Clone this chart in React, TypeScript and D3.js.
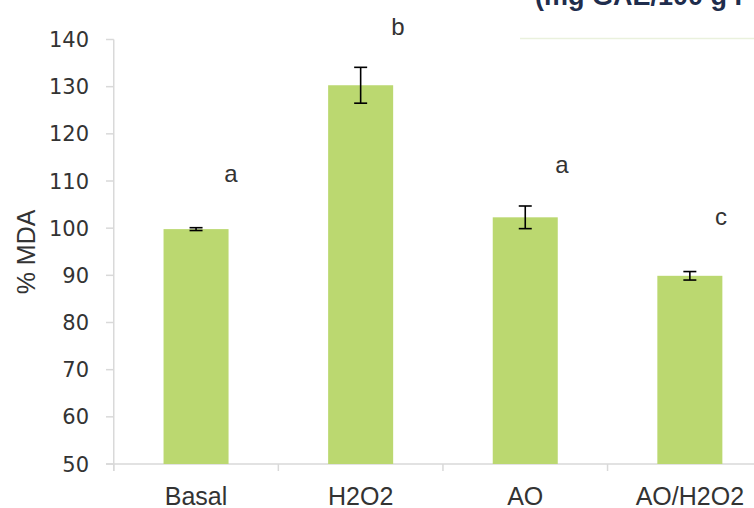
import React from "react";
import * as d3 from "d3";

const categories = ["Basal", "H2O2", "AO", "AO/H2O2"];
const values = [99.8, 130.3, 102.3, 89.9];
const errors = [0.3, 3.8, 2.4, 0.9];
const letters = ["a", "b", "a", "c"];
const yTicks = [50, 60, 70, 80, 90, 100, 110, 120, 130, 140];
const yLabel = "% MDA";
const topTitle = "(mg GAE/100 g FW)";

// layout for the significance letters (pixel positions, not data)
const letterPos = [
  [231, 182],
  [398, 35],
  [562, 173],
  [721, 225],
];

const W = 754;
const H = 508;

export default function App() {
  const axisX = 113.75;
  const step = 164.6;
  const x = d3
    .scaleBand<string>()
    .domain(categories)
    .range([axisX, axisX + step * categories.length])
    .padding(0);
  const y = d3.scaleLinear().domain([50, 140]).range([464, 39.5]);
  const barW = x.bandwidth() * 0.395;
  const axisColor = "#D9D9D9";
  const textColor = "#333333";

  return (
    <svg
      width={W}
      height={H}
      style={{ position: "absolute", left: 0, top: 0, background: "#fff" }}
    >
      <rect x={0} y={0} width={W} height={H} fill="#fff" />
      {/* partial title cut at top */}
      <text
        x={535}
        y={5}
        fontFamily="'Liberation Sans', Arial, sans-serif"
        fontWeight="bold"
        fontSize={27}
        fill="#1F2D4D"
      >
        {topTitle}
      </text>
      <line x1={520} x2={W} y1={38.5} y2={38.5} stroke="#EAF1DD" strokeWidth={1.5} />

      {/* y axis */}
      <line x1={axisX} x2={axisX} y1={y(140)} y2={471} stroke={axisColor} strokeWidth={1.5} />
      {yTicks.map((t) => (
        <g key={t}>
          <line x1={106} x2={axisX} y1={y(t)} y2={y(t)} stroke={axisColor} strokeWidth={1.5} />
          <text
            x={89}
            y={y(t)}
            dy="0.36em"
            textAnchor="end"
            fontFamily="'DejaVu Sans', Verdana, sans-serif"
            fontSize={21}
            fill={textColor}
          >
            {t}
          </text>
        </g>
      ))}
      <text
        transform={`translate(35,252) rotate(-90)`}
        textAnchor="middle"
        fontFamily="'Liberation Sans', Arial, sans-serif"
        fontSize={25}
        fill={textColor}
      >
        {yLabel}
      </text>

      {/* x axis */}
      <line x1={106} x2={W} y1={y(50)} y2={y(50)} stroke={axisColor} strokeWidth={1.5} />
      {categories.map((c, i) => (
        <line
          key={"t" + c}
          x1={(x(c) as number)}
          x2={(x(c) as number)}
          y1={y(50)}
          y2={471}
          stroke={axisColor}
          strokeWidth={1.5}
        />
      ))}

      {/* bars */}
      {categories.map((c, i) => {
        const cx = (x(c) as number) + x.bandwidth() / 2;
        return (
          <rect
            key={"b" + c}
            x={cx - barW / 2}
            y={y(values[i])}
            width={barW}
            height={y(50) - y(values[i])}
            fill="#BBD870"
          />
        );
      })}

      {/* error bars */}
      {categories.map((c, i) => {
        const cx = (x(c) as number) + x.bandwidth() / 2;
        const top = y(values[i] + errors[i]);
        const bot = y(values[i] - errors[i]);
        return (
          <g key={"e" + c} stroke="#000" strokeWidth={1.6}>
            <line x1={cx} x2={cx} y1={top} y2={bot} />
            <line x1={cx - 6.5} x2={cx + 6.5} y1={top} y2={top} />
            <line x1={cx - 6.5} x2={cx + 6.5} y1={bot} y2={bot} />
          </g>
        );
      })}

      {/* category labels */}
      {categories.map((c) => (
        <text
          key={"l" + c}
          x={(x(c) as number) + x.bandwidth() / 2}
          y={505}
          textAnchor="middle"
          fontFamily="'Liberation Sans', Arial, sans-serif"
          fontSize={25}
          fill={textColor}
        >
          {c}
        </text>
      ))}

      {/* significance letters */}
      {letters.map((l, i) => (
        <text
          key={"s" + i}
          x={letterPos[i][0]}
          y={letterPos[i][1]}
          textAnchor="middle"
          fontFamily="'Liberation Sans', Arial, sans-serif"
          fontSize={24}
          fill={textColor}
        >
          {l}
        </text>
      ))}
    </svg>
  );
}
